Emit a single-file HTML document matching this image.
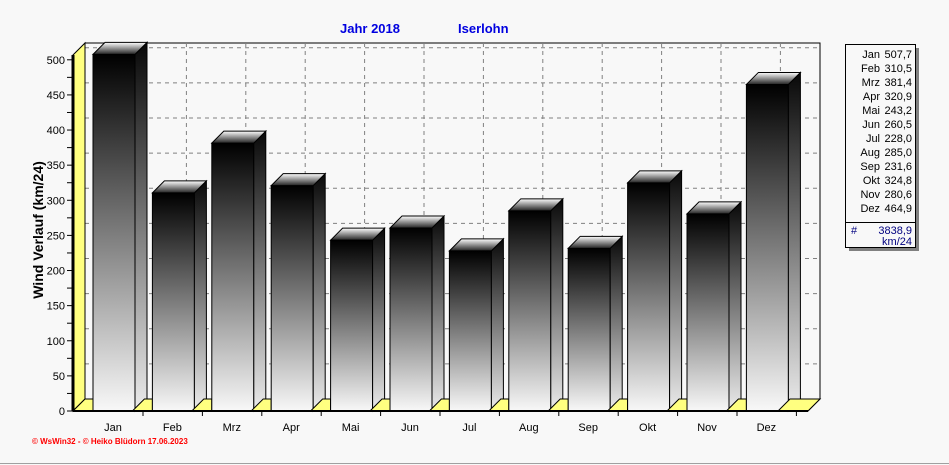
<!DOCTYPE html>
<html><head><meta charset="utf-8"><style>
html,body{margin:0;padding:0;background:#f8f8f8}
svg{display:block}
text{font-family:"Liberation Sans",sans-serif}
</style></head><body>
<svg id="s" width="949" height="465" xmlns="http://www.w3.org/2000/svg">
<defs>
<linearGradient id="gf" x1="0" y1="0" x2="0" y2="1"><stop offset="0" stop-color="#000"/><stop offset="1" stop-color="#f8f8f8"/></linearGradient>
<linearGradient id="gs" x1="0" y1="0" x2="0" y2="1"><stop offset="0" stop-color="#080808"/><stop offset="1" stop-color="#ececec"/></linearGradient>
<linearGradient id="gt" x1="0" y1="0" x2="0" y2="1"><stop offset="0" stop-color="#fff"/><stop offset="1" stop-color="#222"/></linearGradient>
</defs>
<rect x="0" y="0" width="949" height="465" fill="#f8f8f8"/>
<line x1="0" y1="463.5" x2="949" y2="463.5" stroke="#a0a0a0"/>
<text x="340" y="33" font-size="13" font-weight="bold" fill="#0000e0">Jahr  2018</text>
<text x="458" y="33" font-size="13" font-weight="bold" fill="#0000e0">Iserlohn</text>
<text transform="translate(43,230) rotate(-90)" text-anchor="middle" font-size="14" font-weight="bold">Wind Verlauf  (km/24)</text>
<text x="32" y="444" font-size="8" font-weight="bold" fill="#f00">© WsWin32 - © Heiko Blüdorn 17.06.2023</text>
<g id="g"></g>
</svg>
<script>
const g=document.getElementById('g');let h='';
const y0=411,k=0.7024,L=85,R=820,T=43;
h+=`<rect x="${L}" y="${T}" width="${R-L}" height="${y0-12-T}" fill="#f8f8f8" stroke="#000"/>`;
for(let v=50;v<=500;v+=50){const y=y0-12-v*k;h+=`<line x1="${L}" y1="${y}" x2="${R}" y2="${y}" stroke="#808080" stroke-dasharray="4,4"/>`;
h+=`<line x1="73" y1="${y+12}" x2="${L}" y2="${y}" stroke="#808080" stroke-dasharray="3,3"/>`;}
const c0=113,dx=59.4;
for(let i=0;i<12;i++){const x=c0+dx*i+14;h+=`<line x1="${x}" y1="${T}" x2="${x}" y2="${y0-12}" stroke="#808080" stroke-dasharray="4,4"/>`;}
h+=`<polygon points="73,${y0} 73,55 ${L},${T} ${L},${y0-12}" fill="#ffff80" stroke="#000"/>`;
h+=`<line x1="73" y1="55" x2="73" y2="${y0}" stroke="#000" stroke-width="3"/>`;
h+=`<polygon points="73,${y0} ${L},${y0-12} ${R},${y0-12} ${R-12},${y0}" fill="#f8f8f8" stroke="#000"/>`;
const vals=[507.7,310.5,381.4,320.9,243.2,260.5,228.0,285.0,231.6,324.8,280.6,464.9];
const m=['Jan','Feb','Mrz','Apr','Mai','Jun','Jul','Aug','Sep','Okt','Nov','Dez'];
vals.forEach((v,i)=>{const c=c0+dx*i,x1=c-20,x2=c+22,yt=y0-v*k;
h+=`<polygon points="${x1-20},${y0} ${x1-8},${y0-12} ${x1},${y0-12} ${x1},${y0}" fill="#ffff80" stroke="#000"/>`;
h+=`<rect x="${x1}" y="${yt}" width="${x2-x1}" height="${y0-yt}" fill="url(#gf)" stroke="#000"/>`;
h+=`<polygon points="${x2},${yt} ${x2+12},${yt-12} ${x2+12},${y0-12} ${x2},${y0}" fill="url(#gs)" stroke="#000"/>`;
h+=`<polygon points="${x1},${yt} ${x1+12},${yt-12} ${x2+12},${yt-12} ${x2},${yt}" fill="url(#gt)" stroke="#000"/>`;
h+=`<text x="${c}" y="431" font-size="11" text-anchor="middle">${m[i]}</text>`;
h+=`<line x1="${c+30}" y1="${y0}" x2="${c+30}" y2="${y0+5}" stroke="#000"/>`;});
h+=`<polygon points="${R-12},${y0} ${R},${y0-12} ${R},${y0-12} ${R-30},${y0-12} ${R-42},${y0}" fill="#ffff80" stroke="#000"/>`;
h+=`<line x1="73" y1="${y0}" x2="${R-12}" y2="${y0}" stroke="#000" stroke-width="2"/>`;
for(let v=0;v<=500;v+=25){const y=y0-v*k;h+=`<line x1="67" y1="${y}" x2="73" y2="${y}" stroke="#000"/>`;
if(v%50==0)h+=`<text x="65" y="${y+4}" font-size="11" text-anchor="end">${v}</text>`;}
h+=`<rect x="849" y="48" width="70" height="203" fill="#808080"/><rect x="845.5" y="44.5" width="70" height="203" fill="#f8f8f8" stroke="#000"/>`;
vals.forEach((v,i)=>{const y=58+i*14;h+=`<text x="880" y="${y}" font-size="11" text-anchor="end">${m[i]}</text><text x="912" y="${y}" font-size="11" text-anchor="end">${v.toFixed(1).replace('.',',')}</text>`;});
h+=`<line x1="846" y1="222.5" x2="915" y2="222.5" stroke="#000"/>`;
h+=`<text x="851" y="234" font-size="11" fill="#000080">#</text><text x="912" y="234" font-size="11" text-anchor="end" fill="#000080">3838,9</text><text x="912" y="245" font-size="11" text-anchor="end" fill="#000080">km/24</text>`;
g.innerHTML=h;
</script>
</body></html>
